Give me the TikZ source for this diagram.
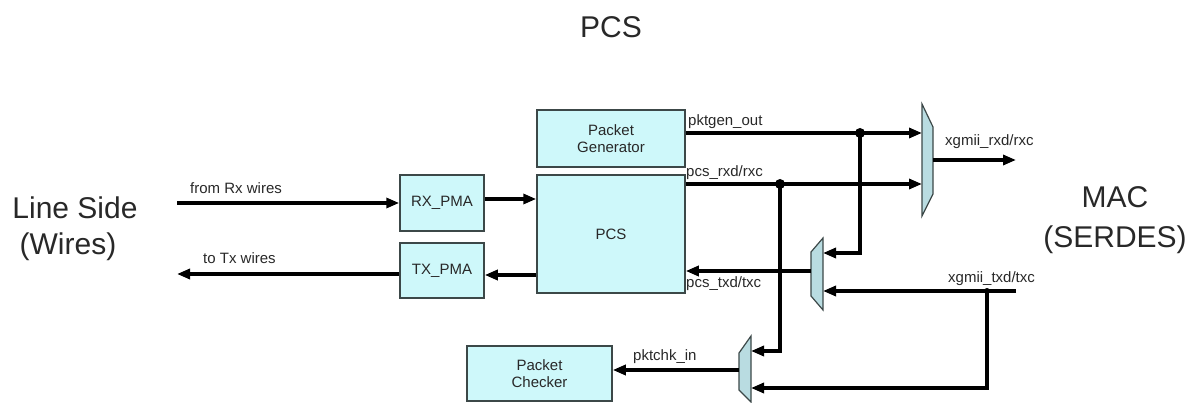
\documentclass[tikz,border=0pt]{standalone}
\usepackage{fontspec}
\setmainfont{Liberation Sans}
\usetikzlibrary{arrows.meta}
\definecolor{boxfill}{RGB}{206,248,250}
\definecolor{boxdraw}{RGB}{60,72,72}
\definecolor{muxfill}{RGB}{185,220,225}
\definecolor{txt}{RGB}{40,40,40}
\tikzset{
  blk/.style={draw=boxdraw, line width=1.5pt, fill=boxfill, align=center,
    font=\fontsize{15}{17}\selectfont, text=txt, inner sep=0pt},
  wire/.style={line width=3.2pt, -{Triangle[length=13pt,width=10pt]}},
  lbl/.style={font=\fontsize{15}{17}\selectfont, text=txt, inner sep=0pt, anchor=west},
  big/.style={font=\fontsize{30}{34}\selectfont, text=txt},
  mux/.style={draw=boxdraw, line width=1.2pt, fill=muxfill},
  junction/.style={circle, fill=black, inner sep=0pt, minimum size=10pt}
}
\begin{document}
\begin{tikzpicture}[x=1pt,y=-1pt]
\useasboundingbox (0,0) rectangle (1193,403);
% titles
\node[big] (title) at (611,27) {PCS};
\node[big] (ls1) at (75,208) {Line Side};
\node[big] (ls2) at (68,247) {(Wires)};
\node[big] (mac1) at (1115,197) {MAC};
\node[big] (mac2) at (1115,240) {(SERDES)};
% blocks
\node[blk, minimum width=148pt, minimum height=57pt] (pg) at (611,138.5) {Packet\\Generator};
\node[blk, minimum width=148pt, minimum height=118pt] (pcs) at (611,234) {PCS};
\node[blk, minimum width=84pt, minimum height=56pt] (rx) at (442,203) {RX\_PMA};
\node[blk, minimum width=84pt, minimum height=55pt] (tx) at (442,270.5) {TX\_PMA};
\node[blk, minimum width=145pt, minimum height=55pt] (pc) at (539.5,373.5) {Packet\\Checker};
% muxes
\draw[mux] (922,104) -- (933,127) -- (933,194) -- (922,216) -- cycle;
\draw[mux] (823,238) -- (823,310) -- (811,296) -- (811,252) -- cycle;
\draw[mux] (751,336) -- (751,402) -- (739,390) -- (739,353) -- cycle;
% port coordinates
\coordinate (m1a) at (922,133);
\coordinate (m1b) at (922,184);
\coordinate (m1o) at (933,160);
\coordinate (xrx) at (1016,160);
\coordinate (m2a) at (823,253);
\coordinate (m2b) at (823,291);
\coordinate (m2o) at (811,271);
\coordinate (m3a) at (751,351);
\coordinate (m3b) at (751,388);
\coordinate (m3o) at (739,370);
\coordinate (xtx) at (1016,291);
\coordinate (rxin) at (177,203);
\coordinate (txout) at (177,274);
\node[junction] (j1) at (860,133) {};
\node[junction] (j2) at (780,184) {};
\node[junction, minimum size=6pt] (j3) at (987,291) {};
% line side
\draw[wire] (rxin) -- (rx.west |- rxin);
\draw[wire] (rx.east |- 0,199) -- (pcs.west |- 0,199);
\draw[wire] (pcs.west |- 0,275) -- (tx.east |- 0,275);
\draw[wire] (tx.west |- txout) -- (txout);
% receive / transmit paths
\draw[wire] (pg.east |- m1a) -- (m1a);
\draw[wire] (pcs.east |- m1b) -- (m1b);
\draw[wire] (m1o) -- (xrx);
\draw[wire] (j1.center) -- (j1.center |- m2a) -- (m2a);
\draw[wire] (m2o) -- (pcs.east |- m2o);
\draw[wire] (xtx) -- (m2b);
\draw[wire] (j3.center) -- (j3.center |- m3b) -- (m3b);
\draw[wire] (j2.center) -- (j2.center |- m3a) -- (m3a);
\draw[wire] (m3o) -- (pc.east |- m3o);
% labels
\node[lbl] (l1) at (190,188) {from Rx wires};
\node[lbl] (l2) at (203,258) {to Tx wires};
\node[lbl] (l3) at (688,122) {pktgen\_out};
\node[lbl] (l4) at (686,173) {pcs\_rxd/rxc};
\node[lbl] (l5) at (686,284) {pcs\_txd/txc};
\node[lbl] (l6) at (945,142) {xgmii\_rxd/rxc};
\node[lbl] (l7) at (948,279) {xgmii\_txd/txc};
\node[lbl] (l8) at (633,357) {pktchk\_in};
\end{tikzpicture}
\end{document}
